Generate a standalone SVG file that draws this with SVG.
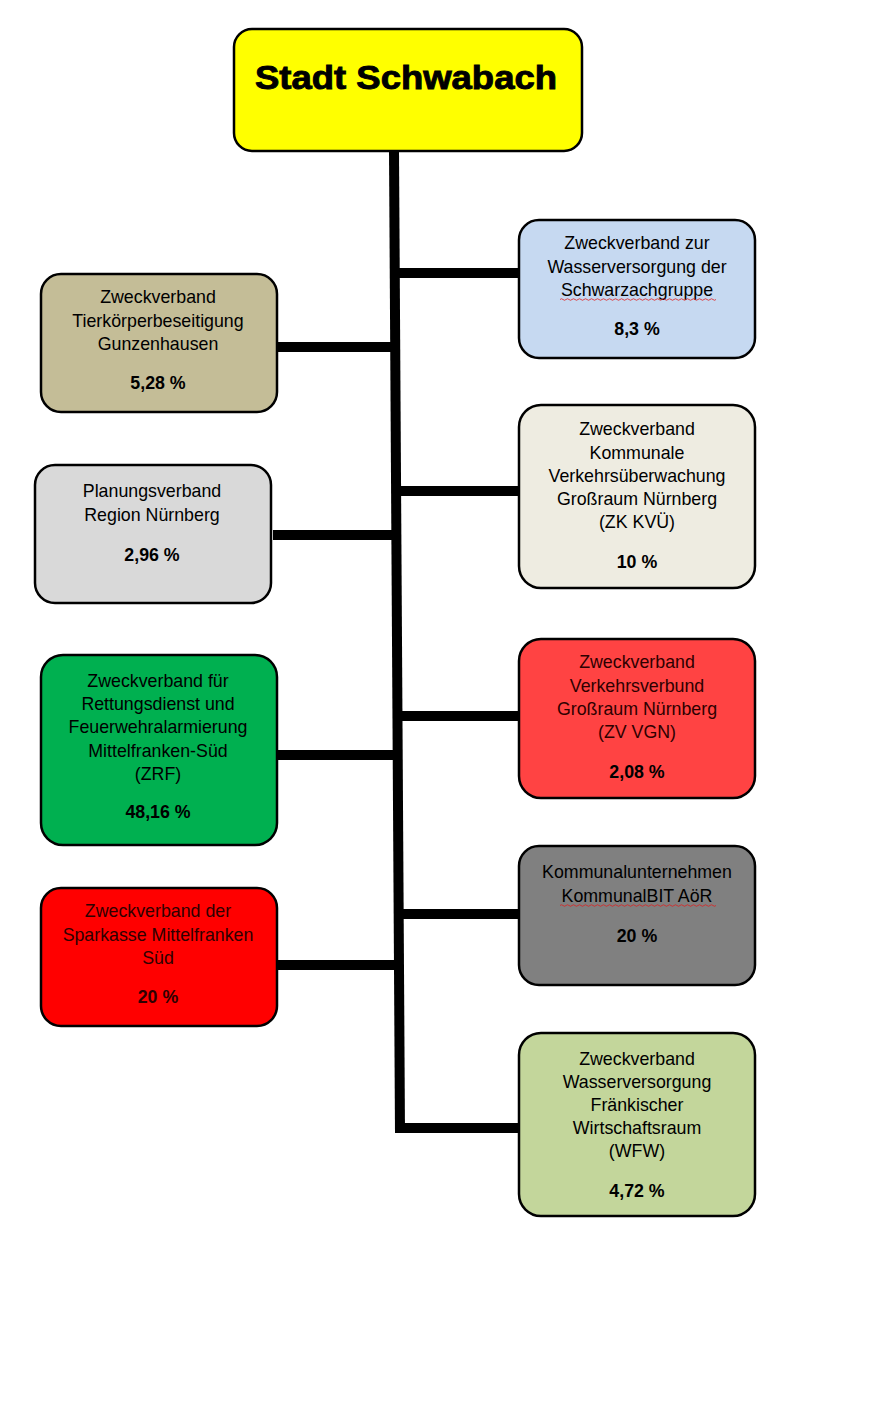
<svg xmlns="http://www.w3.org/2000/svg" width="870" height="1402" viewBox="0 0 870 1402">
<style>
.box{stroke:#000;stroke-width:2.5}
.t{font-family:"Liberation Sans",Arial,sans-serif;font-size:17.8px;text-anchor:middle;fill:#000}
.p{font-weight:bold}
.dr{fill:#2e0000}
.conn line{stroke:#000;stroke-width:10}
.sq{fill:none;stroke:#e02020;stroke-width:0.8}
</style>
<rect width="870" height="1402" fill="#fff"/>
<g class="conn" id="connectors">
<line x1="394" y1="150" x2="400" y2="1133"/>
<line x1="395" y1="273" x2="519" y2="273"/>
<line x1="277" y1="347" x2="396" y2="347"/>
<line x1="396" y1="491" x2="519" y2="491"/>
<line x1="273" y1="535" x2="397" y2="535"/>
<line x1="397" y1="716" x2="519" y2="716"/>
<line x1="277" y1="755" x2="398" y2="755"/>
<line x1="398" y1="914" x2="519" y2="914"/>
<line x1="277" y1="965" x2="399" y2="965"/>
<line x1="395" y1="1128" x2="519" y2="1128"/>
</g>
<g id="root">
<rect class="box" x="234" y="29" width="348" height="122" rx="18" fill="#ffff00"/>
<text x="406" y="89" font-family="'Liberation Sans',Arial,sans-serif" font-weight="bold" font-size="33" text-anchor="middle" stroke="#000" stroke-width="0.9" textLength="302" lengthAdjust="spacingAndGlyphs">Stadt Schwabach</text>
</g>
<g id="tierkoerper">
<rect class="box" x="41" y="274" width="236" height="138" rx="20" fill="#c4bd97"/>
<text class="t" x="158" y="303">Zweckverband</text>
<text class="t" x="158" y="327">Tierkörperbeseitigung</text>
<text class="t" x="158" y="350">Gunzenhausen</text>
<text class="t p" x="158" y="389">5,28 %</text>
</g>
<g id="planungsverband">
<rect class="box" x="35" y="465" width="236" height="138" rx="20" fill="#d9d9d9"/>
<text class="t" x="152" y="497">Planungsverband</text>
<text class="t" x="152" y="521">Region Nürnberg</text>
<text class="t p" x="152" y="561">2,96 %</text>
</g>
<g id="zrf">
<rect class="box" x="41" y="655" width="236" height="190" rx="22" fill="#00b050"/>
<text class="t" x="158" y="687">Zweckverband für</text>
<text class="t" x="158" y="710">Rettungsdienst und</text>
<text class="t" x="158" y="733">Feuerwehralarmierung</text>
<text class="t" x="158" y="757">Mittelfranken-Süd</text>
<text class="t" x="158" y="780">(ZRF)</text>
<text class="t p" x="158" y="818">48,16 %</text>
</g>
<g id="sparkasse">
<rect class="box" x="41" y="888" width="236" height="138" rx="20" fill="#ff0000"/>
<text class="t dr" x="158" y="917">Zweckverband der</text>
<text class="t dr" x="158" y="941">Sparkasse Mittelfranken</text>
<text class="t dr" x="158" y="964">Süd</text>
<text class="t p dr" x="158" y="1003">20 %</text>
</g>
<g id="schwarzach">
<rect class="box" x="519" y="220" width="236" height="138" rx="20" fill="#c6d9f1"/>
<text class="t" x="637" y="249">Zweckverband zur</text>
<text class="t" x="637" y="273">Wasserversorgung der</text>
<text class="t" x="637" y="296">Schwarzachgruppe</text>
<path class="sq" d="M560 299.5 q1.5 -1.5 3 0 t3 0 t3 0 t3 0 t3 0 t3 0 t3 0 t3 0 t3 0 t3 0 t3 0 t3 0 t3 0 t3 0 t3 0 t3 0 t3 0 t3 0 t3 0 t3 0 t3 0 t3 0 t3 0 t3 0 t3 0 t3 0 t3 0 t3 0 t3 0 t3 0 t3 0 t3 0 t3 0 t3 0 t3 0 t3 0 t3 0 t3 0 t3 0 t3 0 t3 0 t3 0 t3 0 t3 0 t3 0 t3 0 t3 0 t3 0 t3 0 t3 0 t3 0 t3 0"/>
<text class="t p" x="637" y="335">8,3 %</text>
</g>
<g id="kvue">
<rect class="box" x="519" y="405" width="236" height="183" rx="22" fill="#eeece1"/>
<text class="t" x="637" y="435">Zweckverband</text>
<text class="t" x="637" y="459">Kommunale</text>
<text class="t" x="637" y="482">Verkehrsüberwachung</text>
<text class="t" x="637" y="505">Großraum Nürnberg</text>
<text class="t" x="637" y="528">(ZK KVÜ)</text>
<text class="t p" x="637" y="568">10 %</text>
</g>
<g id="vgn">
<rect class="box" x="519" y="639" width="236" height="159" rx="22" fill="#ff4343"/>
<text class="t dr" x="637" y="668">Zweckverband</text>
<text class="t dr" x="637" y="692">Verkehrsverbund</text>
<text class="t dr" x="637" y="715">Großraum Nürnberg</text>
<text class="t dr" x="637" y="738">(ZV VGN)</text>
<text class="t p" x="637" y="778">2,08 %</text>
</g>
<g id="kommunalbit">
<rect class="box" x="519" y="846" width="236" height="139" rx="20" fill="#808080"/>
<text class="t" x="637" y="878">Kommunalunternehmen</text>
<text class="t" x="637" y="902">KommunalBIT AöR</text>
<path class="sq" d="M560 905.5 q1.5 -1.5 3 0 t3 0 t3 0 t3 0 t3 0 t3 0 t3 0 t3 0 t3 0 t3 0 t3 0 t3 0 t3 0 t3 0 t3 0 t3 0 t3 0 t3 0 t3 0 t3 0 t3 0 t3 0 t3 0 t3 0 t3 0 t3 0 t3 0 t3 0 t3 0 t3 0 t3 0 t3 0 t3 0 t3 0 t3 0 t3 0 t3 0 t3 0 t3 0 t3 0 t3 0 t3 0 t3 0 t3 0 t3 0 t3 0 t3 0 t3 0 t3 0 t3 0 t3 0 t3 0"/>
<text class="t p" x="637" y="942">20 %</text>
</g>
<g id="wfw">
<rect class="box" x="519" y="1033" width="236" height="183" rx="22" fill="#c3d69b"/>
<text class="t" x="637" y="1065">Zweckverband</text>
<text class="t" x="637" y="1088">Wasserversorgung</text>
<text class="t" x="637" y="1111">Fränkischer</text>
<text class="t" x="637" y="1134">Wirtschaftsraum</text>
<text class="t" x="637" y="1157">(WFW)</text>
<text class="t p" x="637" y="1197">4,72 %</text>
</g>
</svg>
